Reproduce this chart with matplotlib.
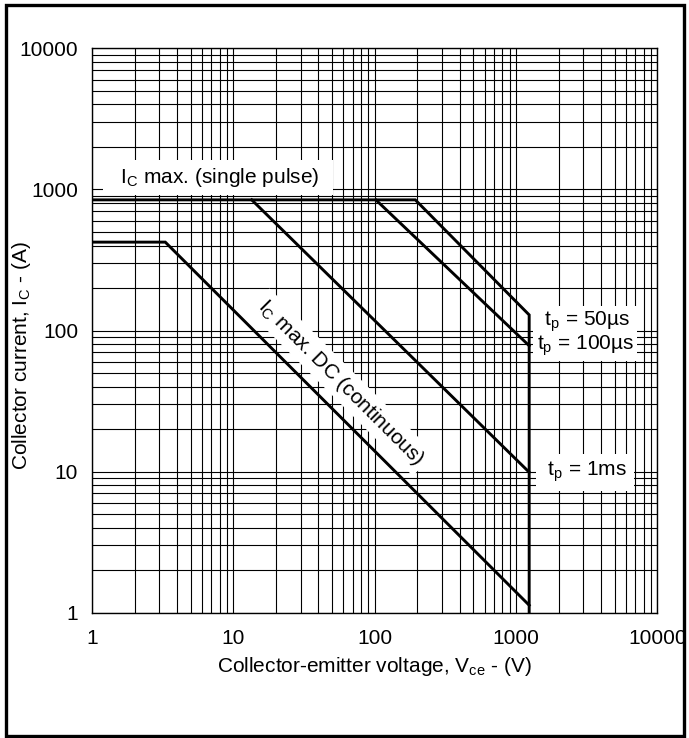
import numpy as np
import matplotlib
matplotlib.use("Agg")
import matplotlib.pyplot as plt
from matplotlib.patches import Rectangle
from matplotlib.ticker import LogLocator, FixedLocator, NullFormatter

# ── Fonts ─────────────────────────────────────────────────────────────────────
plt.rcParams["font.family"] = ["Liberation Sans", "DejaVu Sans"]
plt.rcParams["mathtext.fontset"] = "custom"
plt.rcParams["mathtext.rm"] = "Liberation Sans"
plt.rcParams["mathtext.it"] = "Liberation Sans"

# ── Data ──────────────────────────────────────────────────────────────────────
dc_v   = [1, 3.3, 1240]
dc_i   = [423, 423, 1.13]

p50_v  = [1, 194, 1240, 1240]          # single pulse limit + 50us + voltage limit
p50_i  = [843, 843, 129, 1]

p100_v = [102, 1240]
p100_i = [843, 78]

p1ms_v = [13.5, 1240]
p1ms_i = [843, 9.9]

x_ticks = [1, 10, 100, 1000, 10000]
y_ticks = [1, 10, 100, 1000, 10000]

FS = 15

# ── Figure ────────────────────────────────────────────────────────────────────
fig = plt.figure(figsize=(6.89, 7.38), dpi=100)
ax = fig.add_axes([92 / 689, 1 - 612.7 / 738, 565.3 / 689, 564.4 / 738])

ax.set_xscale("log")
ax.set_yscale("log")
ax.set_xlim(1, 10000)
ax.set_ylim(1, 10000)

ax.xaxis.set_major_locator(FixedLocator(x_ticks))
ax.yaxis.set_major_locator(FixedLocator(y_ticks))
ax.set_xticklabels([str(t) for t in x_ticks])
ax.set_yticklabels([str(t) for t in y_ticks])
ax.xaxis.set_minor_locator(LogLocator(base=10, subs=np.arange(2, 10), numticks=20))
ax.yaxis.set_minor_locator(LogLocator(base=10, subs=np.arange(2, 10), numticks=20))
ax.xaxis.set_minor_formatter(NullFormatter())
ax.yaxis.set_minor_formatter(NullFormatter())

ax.tick_params(which="both", length=0)
ax.tick_params(axis="x", pad=12, labelsize=FS)
ax.tick_params(axis="y", pad=10, labelsize=FS)

ax.grid(which="both", color="black", linewidth=0.8)
for sp in ax.spines.values():
    sp.set_linewidth(1.0)

# ── Curves ────────────────────────────────────────────────────────────────────
lw = 2.1
ax.plot(dc_v, dc_i, color="black", lw=lw, zorder=5, solid_joinstyle="miter")
ax.plot(p50_v, p50_i, color="black", lw=lw, zorder=5, solid_joinstyle="miter")
ax.plot(p100_v, p100_i, color="black", lw=lw, zorder=5)
ax.plot(p1ms_v, p1ms_i, color="black", lw=lw, zorder=5)

# ── Annotations ───────────────────────────────────────────────────────────────
box = dict(boxstyle="square,pad=0.3", facecolor="white", edgecolor="none")

ax.text(7.8, 1210, r"  $\mathregular{I_C}$ max. (single pulse)  ", fontsize=FS,
        ha="center", va="center", bbox=box, zorder=4)
ax.text(3080, 95, " $\\mathregular{t_p}$ = 50µs \n$\\mathregular{t_p}$ = 100µs",
        fontsize=FS, ha="center", va="center", multialignment="center",
        linespacing=1.0, bbox=dict(boxstyle="square,pad=0.15",
                                   facecolor="white", edgecolor="none"),
        zorder=4)
ax.text(3080, 9.9, r" $\mathregular{t_p}$ = 1ms ", fontsize=FS,
        ha="center", va="center", bbox=box, zorder=4)
ax.text(58, 43, r"$\mathregular{I_C}$ max. DC (continuous)", fontsize=FS,
        ha="center", va="center", rotation=-45, rotation_mode="anchor",
        bbox=dict(boxstyle="square,pad=0.2", facecolor="white", edgecolor="none"),
        zorder=4)

# ── Axis labels ───────────────────────────────────────────────────────────────
ax.set_xlabel(r"Collector-emitter voltage, $\mathregular{V_{ce}}$ - (V)", fontsize=FS, va="center")
ax.xaxis.set_label_coords(0.5, -0.095)
ax.set_ylabel(r"Collector current, $\mathregular{I_C}$ - (A)", fontsize=FS, va="center")
ax.yaxis.set_label_coords(-0.124, 0.455)

# outer frame
fig.add_artist(Rectangle((5.5 / 689, 1 - 735.5 / 738), 678 / 689, 731 / 738,
                         transform=fig.transFigure, fill=False,
                         edgecolor="black", linewidth=2.4))

fig.savefig("out.png", dpi=100)
